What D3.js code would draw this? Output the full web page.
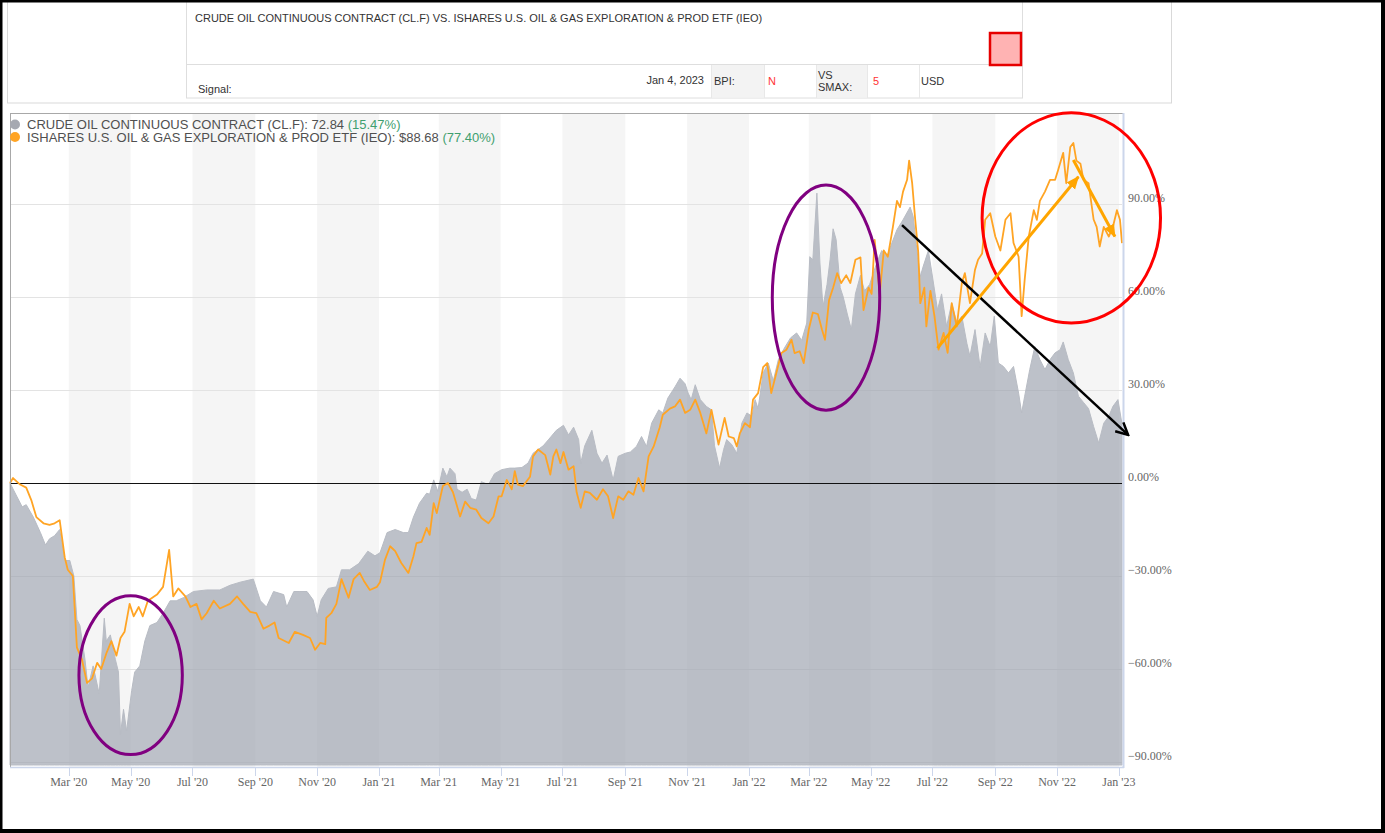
<!DOCTYPE html>
<html>
<head>
<meta charset="utf-8">
<script src="https://cdn.jsdelivr.net/npm/d3@7"></script>
<style>
  body { margin: 0; background: #fff; }
  svg { display: block; }
</style>
</head>
<body>
<svg id="chart" width="1385" height="833"></svg>
<script>
// crude oil continuous contract, % change since start
var crudeDates = [
  "2020-01-03","2020-01-10","2020-01-15","2020-01-19","2020-01-26","2020-02-02","2020-02-07","2020-02-11","2020-02-16","2020-02-21",
  "2020-02-26","2020-03-02","2020-03-06","2020-03-09","2020-03-12","2020-03-17","2020-03-20","2020-03-25","2020-03-31","2020-04-05",
  "2020-04-07","2020-04-11","2020-04-16","2020-04-19","2020-04-21","2020-04-24","2020-04-27","2020-05-02","2020-05-05","2020-05-10",
  "2020-05-15","2020-05-20","2020-05-27","2020-06-02","2020-06-09","2020-06-15","2020-06-22","2020-07-02","2020-07-15","2020-07-28",
  "2020-08-07","2020-08-17","2020-08-30","2020-09-06","2020-09-12","2020-09-19","2020-09-29","2020-10-02","2020-10-09","2020-10-15",
  "2020-10-22","2020-10-28","2020-11-01","2020-11-05","2020-11-12","2020-11-20","2020-11-25","2020-12-03","2020-12-12","2020-12-21",
  "2020-12-28","2021-01-02","2021-01-09","2021-01-17","2021-01-25","2021-01-30","2021-02-04","2021-02-10","2021-02-17","2021-02-20",
  "2021-02-24","2021-02-28","2021-03-05","2021-03-09","2021-03-12","2021-03-17","2021-03-19","2021-03-24","2021-03-29","2021-04-02",
  "2021-04-07","2021-04-12","2021-04-19","2021-04-25","2021-05-02","2021-05-10","2021-05-15","2021-05-22","2021-05-28","2021-06-02",
  "2021-06-12","2021-06-17","2021-06-25","2021-07-02","2021-07-07","2021-07-12","2021-07-17","2021-07-19","2021-07-23","2021-07-30",
  "2021-08-04","2021-08-09","2021-08-14","2021-08-20","2021-08-25","2021-09-01","2021-09-06","2021-09-12","2021-09-17","2021-09-22",
  "2021-09-27","2021-10-04","2021-10-08","2021-10-13","2021-10-20","2021-10-25","2021-10-30","2021-11-02","2021-11-05","2021-11-09",
  "2021-11-14","2021-11-20","2021-11-25","2021-11-28","2021-12-03","2021-12-07","2021-12-10","2021-12-15","2021-12-20","2021-12-25",
  "2021-12-30","2022-01-04","2022-01-07","2022-01-10","2022-01-15","2022-01-20","2022-01-25","2022-01-30","2022-02-04","2022-02-11",
  "2022-02-17","2022-02-22","2022-02-27","2022-03-02","2022-03-05","2022-03-09","2022-03-12","2022-03-15","2022-03-19","2022-03-22",
  "2022-03-25","2022-03-28","2022-04-01","2022-04-04","2022-04-08","2022-04-12","2022-04-16","2022-04-21","2022-04-25","2022-04-30",
  "2022-05-07","2022-05-12","2022-05-17","2022-05-22","2022-05-27","2022-06-02","2022-06-09","2022-06-12","2022-06-15","2022-06-19",
  "2022-06-22","2022-06-27","2022-07-02","2022-07-06","2022-07-10","2022-07-15","2022-07-20","2022-07-25","2022-07-30","2022-08-04",
  "2022-08-07","2022-08-12","2022-08-17","2022-08-22","2022-08-27","2022-08-31","2022-09-04","2022-09-09","2022-09-14","2022-09-19",
  "2022-09-24","2022-09-27","2022-09-30","2022-10-05","2022-10-10","2022-10-15","2022-10-20","2022-10-25","2022-10-30","2022-11-04",
  "2022-11-07","2022-11-12","2022-11-17","2022-11-22","2022-11-27","2022-12-02","2022-12-07","2022-12-12","2022-12-17","2022-12-22",
  "2022-12-26","2022-12-31","2023-01-04"
];
var crudePct = [
  0, -4.5, -7.7, -7, -11, -16, -20, -18, -17, -15,
  -25, -25, -30, -44, -46, -57, -66, -59, -68, -43.6,
  -51, -49, -57, -61, -81, -73, -80, -67, -61, -59,
  -51, -46, -45, -42, -38, -38, -37, -35, -34.5, -34.5,
  -33, -32, -31, -38, -40, -35, -36, -40, -35, -35,
  -35, -37.7, -43, -37.7, -34, -33.5, -28, -28, -26, -22,
  -23.5, -22.5, -16, -15, -16, -16, -11, -6.5, -3.3, -3.6,
  1, -2.7, 4.8, 2, 4.8, 3, -2, -3, -2, -5,
  -5.5, 0.4, -0.5, 3, 4.3, 4.8, 4.8, 5, 6.4, 9.6,
  12, 13.9, 17, 18.6, 15.5, 18, 14, 6.4, 12, 17,
  9.6, 6.4, 9, 1, 8.6, 9.6, 10, 11.8, 15, 11.8,
  19.3, 23.6, 22.6, 27.4, 31, 33.8, 32, 29, 26.9, 31.7,
  26.9, 24.7, 23.6, 12, 4.8, 10.8, 14, 12.4, 9.6, 19.3,
  22.6, 21.5, 26.9, 24, 35.5, 38.7, 33, 39.8, 43, 46.8,
  48.4, 46, 51.6, 73, 72, 93.5, 71, 56.8, 64, 72,
  82, 78.5, 63, 60, 54.5, 49.5, 61, 67, 62, 64,
  71, 75, 73, 77.4, 81.7, 84.9, 89, 86, 77, 66.6,
  70, 75, 64.5, 55.8, 61, 50.5, 58, 51.6, 53.8, 45,
  40.9, 49.5, 37.4, 48.4, 44, 53.8, 38.7, 37.6, 35.5, 37.6,
  29, 22.6, 28, 36.6, 44, 39.8, 36.6, 39.8, 42, 43,
  45.5, 39.8, 35.5, 28, 26, 24, 18.2, 12.9, 19.3, 21.5,
  24.7, 26.9, 19
];

// iShares U.S. Oil & Gas Exploration & Prod ETF, % change since start
var ieoDates = [
  "2020-01-03","2020-01-06","2020-01-13","2020-01-19","2020-01-24","2020-01-29","2020-02-05","2020-02-11","2020-02-16","2020-02-21",
  "2020-02-26","2020-02-29","2020-03-05","2020-03-09","2020-03-14","2020-03-19","2020-03-24","2020-03-29","2020-04-02","2020-04-07",
  "2020-04-12","2020-04-17","2020-04-21","2020-04-25","2020-04-30","2020-05-04","2020-05-09","2020-05-13","2020-05-18","2020-05-27",
  "2020-06-02","2020-06-08","2020-06-12","2020-06-17","2020-06-24","2020-06-29","2020-07-05","2020-07-10","2020-07-15","2020-07-22",
  "2020-07-28","2020-08-07","2020-08-14","2020-08-20","2020-08-27","2020-09-02","2020-09-09","2020-09-15","2020-09-20","2020-09-24",
  "2020-10-04","2020-10-10","2020-10-18","2020-10-25","2020-10-30","2020-11-04","2020-11-09","2020-11-10","2020-11-15","2020-11-20",
  "2020-11-25","2020-12-02","2020-12-07","2020-12-13","2020-12-17","2020-12-23","2020-12-30","2021-01-02","2021-01-07","2021-01-12",
  "2021-01-17","2021-01-23","2021-01-30","2021-02-04","2021-02-07","2021-02-12","2021-02-17","2021-02-20","2021-02-24","2021-02-27",
  "2021-03-05","2021-03-10","2021-03-15","2021-03-22","2021-03-27","2021-04-01","2021-04-07","2021-04-12","2021-04-19","2021-04-24",
  "2021-04-29","2021-05-02","2021-05-07","2021-05-12","2021-05-15","2021-05-18","2021-05-23","2021-05-30","2021-06-02","2021-06-07",
  "2021-06-14","2021-06-19","2021-06-22","2021-06-25","2021-06-29","2021-07-02","2021-07-07","2021-07-12","2021-07-15","2021-07-19",
  "2021-07-23","2021-07-28","2021-08-04","2021-08-10","2021-08-15","2021-08-20","2021-08-25","2021-08-30","2021-09-04","2021-09-09",
  "2021-09-14","2021-09-19","2021-09-24","2021-09-29","2021-10-05","2021-10-08","2021-10-15","2021-10-20","2021-10-25","2021-10-30",
  "2021-11-04","2021-11-09","2021-11-14","2021-11-20","2021-11-25","2021-12-02","2021-12-08","2021-12-12","2021-12-17","2021-12-20",
  "2021-12-23","2021-12-28","2022-01-02","2022-01-05","2022-01-10","2022-01-15","2022-01-19","2022-01-23","2022-01-28","2022-02-02",
  "2022-02-07","2022-02-12","2022-02-15","2022-02-20","2022-02-24","2022-03-01","2022-03-05","2022-03-10","2022-03-14","2022-03-17",
  "2022-03-21","2022-03-25","2022-03-29","2022-04-02","2022-04-07","2022-04-11","2022-04-16","2022-04-21","2022-04-24","2022-04-29",
  "2022-05-02","2022-05-05","2022-05-10","2022-05-14","2022-05-18","2022-05-23","2022-05-27","2022-05-30","2022-06-02","2022-06-06",
  "2022-06-08","2022-06-11","2022-06-14","2022-06-17","2022-06-19","2022-06-23","2022-06-25","2022-06-29","2022-07-03","2022-07-07",
  "2022-07-12","2022-07-16","2022-07-20","2022-07-25","2022-07-30","2022-08-02","2022-08-07","2022-08-12","2022-08-15","2022-08-19",
  "2022-08-22","2022-08-27","2022-09-01","2022-09-06","2022-09-11","2022-09-16","2022-09-19","2022-09-24","2022-09-27","2022-09-30",
  "2022-10-04","2022-10-09","2022-10-12","2022-10-15","2022-10-20","2022-10-25","2022-10-30","2022-11-02","2022-11-07","2022-11-10",
  "2022-11-14","2022-11-17","2022-11-20","2022-11-24","2022-11-27","2022-12-02","2022-12-07","2022-12-10","2022-12-13","2022-12-17",
  "2022-12-22","2022-12-26","2022-12-30","2023-01-02","2023-01-04"
];
var ieoPct = [
  0, 1.6, -0.5, -1.5, -5.5, -11, -13, -13.5, -13, -12,
  -24, -28, -30, -53, -57, -64.5, -63, -58, -60, -55,
  -51, -55.7, -50, -48, -39, -43, -40, -43, -38, -36,
  -33.5, -21.6, -36.6, -34, -36.6, -40, -39, -44, -42, -38,
  -40.5, -39, -36.6, -39, -41.6, -42, -47, -46, -45, -50,
  -51.6, -48, -49, -50, -53.8, -51.6, -52, -43.5, -42, -39,
  -31, -37, -31, -29, -31.5, -34.5, -33.5, -32, -24.7, -20.4,
  -22, -25.8, -29, -23.6, -19.4, -19, -14.5, -16.7, -6.5, -9.7,
  -1, 0, -3, -10.8, -6, -8, -8.6, -11.3, -13, -10.8,
  -4.3, -4.3, 1, -2, 3.8, -0.5, -1, 2, 8.6, 10.8,
  9, 2.7, 8.6, 10.8, 6.4, 10, 4.3, 5.4, -3, -8,
  -2.7, -3.2, -5.4, -2, -4.3, -11.3, -4.3, -5.4, -2.7, -3.8,
  1.6, -2.7, 8.6, 11.8, 18, 22, 24, 24.7, 26.9, 22.6,
  23.6, 26.9, 22.6, 16, 23.6, 12.4, 21, 15, 14.5, 11.8,
  16, 19.3, 18, 26.9, 29, 37.4, 38.7, 29, 35.5, 41.9,
  43, 46.2, 41.9, 42.5, 38.7, 49.5, 55, 54.5, 49.5, 46.2,
  59, 63, 67.7, 64.5, 67, 64.5, 72, 72.8, 55.8, 63,
  61, 78.4, 61, 75, 73, 82.6, 91, 89, 94, 97.8,
  104, 96.7, 85, 74.4, 58, 63, 50.5, 62, 53.8, 43,
  48.4, 42, 58, 50.5, 64.5, 67.7, 58, 68.8, 72, 74,
  84.9, 87, 79.5, 75, 84.9, 87, 77.4, 73, 53.8, 65.6,
  79.5, 88, 84.9, 91, 94, 97.8, 97.8, 101, 106.5, 96.7,
  108.4, 109.7, 104, 103, 97.8, 96.7, 85, 82.6, 76.3, 82.6,
  79.5, 82.6, 88, 84.9, 77.4
];

var yTicks = [-90, -60, -30, 0, 30, 60, 90];
var legendNames = ["CRUDE OIL CONTINUOUS CONTRACT (CL.F): 72.84 ", "ISHARES U.S. OIL & GAS EXPLORATION & PROD ETF (IEO): $88.68 "];
var legendChanges = ["(15.47%)", "(77.40%)"];
var title = "CRUDE OIL CONTINUOUS CONTRACT (CL.F) VS. ISHARES U.S. OIL & GAS EXPLORATION & PROD ETF (IEO)";

// hand drawn marks on the picture, in date / percent units
var rings = [
  {date: "2020-05-01", value: -62, days: 51, pct: 25.6, color: "#800080"},
  {date: "2022-03-18", value: 59.8, days: 53, pct: 36.3, color: "#800080"},
  {date: "2022-11-15", value: 85.5, days: 88, pct: 33.9, color: "#ff0000"}
];
var arrows = [
  {from: ["2022-06-01", 83.2], to: ["2023-01-10", 15.5], color: "#000", head: "open"},
  {from: ["2022-07-06", 43.5], to: ["2022-11-22", 98.8], color: "#ffa500", head: "fill"},
  {from: ["2022-11-17", 104.2], to: ["2022-12-28", 79.5], color: "#ffa500", head: "fill"}
];

var parse = d3.timeParse("%Y-%m-%d");
var crude = crudeDates.map(function (d, i) { return {date: parse(d), value: crudePct[i]}; });
var ieo = ieoDates.map(function (d, i) { return {date: parse(d), value: ieoPct[i]}; });

var plotLeft = 10, plotRight = 1122, plotTop = 114, plotBottom = 767;
var svg = d3.select("#chart");

var x = d3.scaleTime()
    .domain([parse("2020-01-03"), parse("2023-01-04")])
    .range([plotLeft, plotRight]);
var y = d3.scaleLinear()
    .domain([-90, 90])
    .range([762, 204]);

svg.append("rect").attr("width", 1385).attr("height", 833).attr("fill", "#fff");

// header panel
var head = svg.append("g").attr("font-family", "'Liberation Sans', Arial, sans-serif").attr("font-size", 11).attr("fill", "#333");
head.append("rect").attr("x", 7.5).attr("y", -2).attr("width", 1164).attr("height", 105)
    .attr("fill", "#fff").attr("stroke", "#d9d9d9");
head.append("rect").attr("x", 186.5).attr("y", -2).attr("width", 836).attr("height", 100)
    .attr("fill", "#fff").attr("stroke", "#dedede");
head.append("rect").attr("x", 711).attr("y", 65).attr("width", 53).attr("height", 32.5).attr("fill", "#f3f3f3");
head.append("rect").attr("x", 816).attr("y", 65).attr("width", 51).attr("height", 32.5).attr("fill", "#f3f3f3");
head.append("line").attr("x1", 186.5).attr("x2", 1022.5).attr("y1", 64.5).attr("y2", 64.5).attr("stroke", "#dedede");
[711, 764, 816, 867, 919].forEach(function (cx) {
    head.append("line").attr("x1", cx + 0.5).attr("x2", cx + 0.5).attr("y1", 65).attr("y2", 98).attr("stroke", "#e8e8e8");
});
head.append("rect").attr("x", 990).attr("y", 33).attr("width", 31).attr("height", 32)
    .attr("fill", "#ffb3b3").attr("stroke", "#e60000").attr("stroke-width", 2.5);
head.append("text").attr("x", 195).attr("y", 22).text(title);
head.append("text").attr("x", 198).attr("y", 93).text("Signal:");
head.append("text").attr("x", 704).attr("y", 84).attr("text-anchor", "end").text("Jan 4, 2023");
head.append("text").attr("x", 714).attr("y", 85).text("BPI:");
head.append("text").attr("x", 768).attr("y", 85).attr("fill", "#f33").text("N");
head.append("text").attr("x", 818).attr("y", 79).text("VS");
head.append("text").attr("x", 818).attr("y", 91).text("SMAX:");
head.append("text").attr("x", 873).attr("y", 85).attr("fill", "#f33").text("5");
head.append("text").attr("x", 921).attr("y", 85).text("USD");

// month ticks and shaded bands every other two months
var months = x.ticks(d3.timeMonth.every(2));
var bands = [];
for (var i = 0; i + 1 < months.length; i += 2) bands.push([months[i], months[i + 1]]);

var plot = svg.append("g");
plot.append("rect").attr("x", plotLeft).attr("y", plotTop)
    .attr("width", plotRight - plotLeft).attr("height", plotBottom - plotTop).attr("fill", "#fff");
plot.selectAll(".band").data(bands).enter().append("rect")
    .attr("class", "band")
    .attr("x", function (d) { return x(d[0]); })
    .attr("width", function (d) { return x(d[1]) - x(d[0]); })
    .attr("y", plotTop).attr("height", plotBottom - plotTop)
    .attr("fill", "#f5f5f5");

plot.selectAll(".grid").data(yTicks).enter().append("line")
    .attr("class", "grid")
    .attr("x1", plotLeft).attr("x2", plotRight)
    .attr("y1", function (d) { return Math.round(y(d)) + 0.5; })
    .attr("y2", function (d) { return Math.round(y(d)) + 0.5; })
    .attr("stroke", "#e3e3e3");

var area = d3.area()
    .x(function (d) { return x(d.date); })
    .y0(plotBottom - 2)
    .y1(function (d) { return y(d.value); });
plot.append("path").datum(crude)
    .attr("d", area)
    .attr("fill", "#9ea3b0").attr("fill-opacity", 0.68)
    .attr("stroke", "#b8bcc4").attr("stroke-width", 1);

plot.append("line")
    .attr("x1", plotLeft).attr("x2", plotRight)
    .attr("y1", Math.round(y(0)) + 0.5).attr("y2", Math.round(y(0)) + 0.5)
    .attr("stroke", "#111");

var line = d3.line()
    .x(function (d) { return x(d.date); })
    .y(function (d) { return y(d.value); });
plot.append("path").datum(ieo)
    .attr("d", line)
    .attr("fill", "none")
    .attr("stroke", "#ffa424").attr("stroke-width", 1.8)
    .attr("stroke-linejoin", "round");

// plot border and axes
plot.append("line").attr("x1", plotLeft).attr("x2", plotRight + 2)
    .attr("y1", plotTop - 0.5).attr("y2", plotTop - 0.5).attr("stroke", "#a8a8a8");
plot.append("line").attr("x1", plotLeft + 0.5).attr("x2", plotLeft + 0.5)
    .attr("y1", plotTop - 1).attr("y2", plotBottom).attr("stroke", "#a8a8a8");
plot.append("line").attr("x1", plotRight + 1.5).attr("x2", plotRight + 1.5)
    .attr("y1", plotTop - 1).attr("y2", plotBottom + 1).attr("stroke", "#ccd6eb").attr("stroke-width", 2);
plot.append("line").attr("x1", plotLeft).attr("x2", plotRight + 2)
    .attr("y1", plotBottom + 0.5).attr("y2", plotBottom + 0.5).attr("stroke", "#ccd6eb").attr("stroke-width", 1.5);

var axis = svg.append("g").attr("font-family", "'Liberation Serif', 'Times New Roman', serif").attr("font-size", 12).attr("fill", "#666");
axis.selectAll(".xtick").data(months).enter().append("line")
    .attr("class", "xtick")
    .attr("x1", function (d) { return Math.round(x(d)) + 0.5; })
    .attr("x2", function (d) { return Math.round(x(d)) + 0.5; })
    .attr("y1", plotBottom).attr("y2", plotBottom + 9)
    .attr("stroke", "#ccd6eb");
axis.selectAll(".xlabel").data(months).enter().append("text")
    .attr("class", "xlabel")
    .attr("x", function (d) { return x(d); })
    .attr("y", 786)
    .attr("text-anchor", "middle")
    .text(d3.timeFormat("%b '%y"));
axis.selectAll(".ylabel").data(yTicks).enter().append("text")
    .attr("class", "ylabel")
    .attr("x", 1128)
    .attr("y", function (d) { return y(d) - 2; })
    .text(function (d) { return d3.format(".2f")(d) + "%"; });

// legend
var legend = svg.append("g").attr("font-family", "'Liberation Sans', Arial, sans-serif").attr("font-size", 13);
var legendColors = ["#a6a9b1", "#ffa424"];
legendNames.forEach(function (name, i) {
    legend.append("circle").attr("cx", 15).attr("cy", 124.5 + i * 12.5).attr("r", 5).attr("fill", legendColors[i]);
    var t = legend.append("text").attr("x", 27).attr("y", 129 + i * 12.5).attr("fill", "#505050");
    t.append("tspan").text(name);
    t.append("tspan").attr("fill", "#3f9f6f").text(legendChanges[i]);
});

// annotations
var defs = svg.append("defs");
defs.append("marker").attr("id", "head-open")
    .attr("markerUnits", "userSpaceOnUse").attr("markerWidth", 16).attr("markerHeight", 14)
    .attr("viewBox", "-14 -7 16 14").attr("refX", 0).attr("refY", 0).attr("orient", "auto")
    .append("path").attr("d", "M-12,-6 L0,0 L-12,6").attr("fill", "none").attr("stroke", "#000").attr("stroke-width", 2.5);
defs.append("marker").attr("id", "head-fill")
    .attr("markerUnits", "userSpaceOnUse").attr("markerWidth", 14).attr("markerHeight", 12)
    .attr("viewBox", "-12 -6 14 12").attr("refX", 0).attr("refY", 0).attr("orient", "auto")
    .append("path").attr("d", "M-12,-5.5 L1,0 L-12,5.5 Z").attr("fill", "#ffa500");

var notes = svg.append("g");
notes.selectAll("ellipse").data(rings).enter().append("ellipse")
    .attr("cx", function (d) { return x(parse(d.date)); })
    .attr("cy", function (d) { return y(d.value); })
    .attr("rx", function (d) { return x(d3.timeDay.offset(parse(d.date), d.days)) - x(parse(d.date)); })
    .attr("ry", function (d) { return y(d.value - d.pct) - y(d.value); })
    .attr("fill", "none")
    .attr("stroke", function (d) { return d.color; })
    .attr("stroke-width", 3);
notes.selectAll(".arrow").data(arrows).enter().append("line")
    .attr("class", "arrow")
    .attr("x1", function (d) { return x(parse(d.from[0])); })
    .attr("y1", function (d) { return y(d.from[1]); })
    .attr("x2", function (d) { return x(parse(d.to[0])); })
    .attr("y2", function (d) { return y(d.to[1]); })
    .attr("stroke", function (d) { return d.color; })
    .attr("stroke-width", function (d) { return d.head === "open" ? 2.5 : 3; })
    .attr("marker-end", function (d) { return "url(#head-" + d.head + ")"; });

// black page border
svg.append("rect").attr("x", 0).attr("y", 0).attr("width", 1385).attr("height", 2.5).attr("fill", "#000");
svg.append("rect").attr("x", 0).attr("y", 0).attr("width", 2.5).attr("height", 833).attr("fill", "#000");
svg.append("rect").attr("x", 1381).attr("y", 0).attr("width", 4).attr("height", 833).attr("fill", "#000");
svg.append("rect").attr("x", 0).attr("y", 829).attr("width", 1385).attr("height", 4).attr("fill", "#000");
</script>
</body>
</html>
